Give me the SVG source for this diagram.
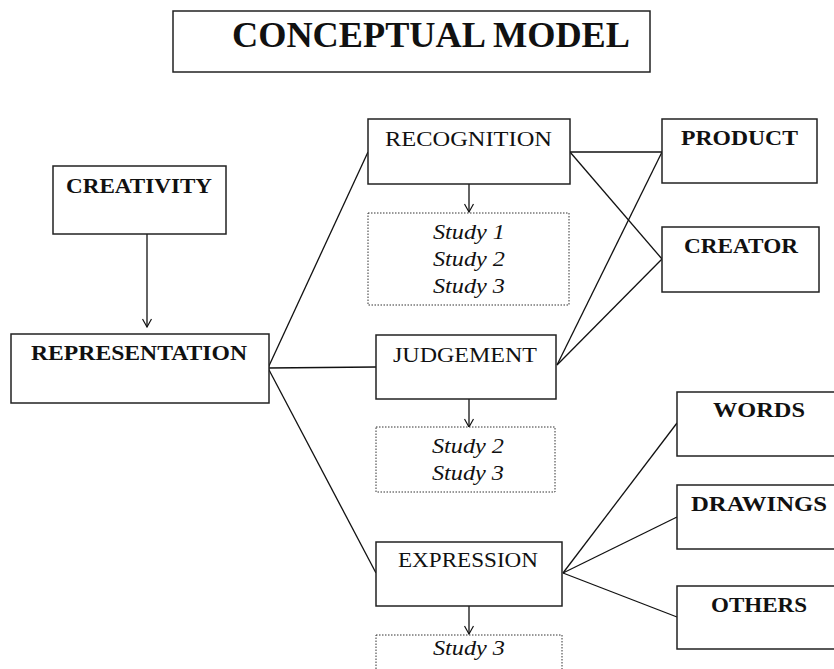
<svg xmlns="http://www.w3.org/2000/svg" width="834" height="669" viewBox="0 0 834 669">
  <defs>
    <marker id="arr" viewBox="0 0 10 10" refX="9" refY="5" markerWidth="10" markerHeight="10" markerUnits="userSpaceOnUse" orient="auto">
      <path d="M1,0.5 L9,5 L1,9.5" fill="none" stroke="#111" stroke-width="1.2"/>
    </marker>
  </defs>
  <style>
    .box { fill: #fff; stroke: #222; stroke-width: 1.5; }
    .dot { fill: #fff; stroke: #333; stroke-width: 1; stroke-dasharray: 1.5 1.5; }
    .t { font-family: "Liberation Serif", "DejaVu Serif", serif; font-size: 22px; fill: #111; }
    .b { font-weight: bold; }
    .i { font-style: italic; text-anchor: middle; }
    .ln { stroke: #111; stroke-width: 1.3; fill: none; }
  </style>
  <rect width="834" height="669" fill="#fff"/>

  <g id="title">
    <rect class="box" x="173" y="11" width="477" height="61"/>
    <text class="t b" x="232" y="47" style="font-size:36px" textLength="398" lengthAdjust="spacingAndGlyphs">CONCEPTUAL MODEL</text>
  </g>

  <g id="connectors">
    <line class="ln" x1="147" y1="234" x2="147" y2="327" marker-end="url(#arr)"/>
    <line class="ln" x1="268" y1="368" x2="368" y2="152"/>
    <line class="ln" x1="268" y1="368" x2="376" y2="367"/>
    <line class="ln" x1="268" y1="368" x2="376" y2="573"/>
    <line class="ln" x1="570" y1="152" x2="662" y2="152"/>
    <line class="ln" x1="570" y1="152" x2="662" y2="259"/>
    <line class="ln" x1="557" y1="365" x2="662" y2="152"/>
    <line class="ln" x1="557" y1="365" x2="662" y2="259"/>
    <line class="ln" x1="563" y1="573" x2="677" y2="423"/>
    <line class="ln" x1="563" y1="573" x2="677" y2="517"/>
    <line class="ln" x1="563" y1="573" x2="677" y2="617"/>
    <line class="ln" x1="469" y1="184" x2="469" y2="212" marker-end="url(#arr)"/>
    <line class="ln" x1="469" y1="399" x2="469" y2="427" marker-end="url(#arr)"/>
    <line class="ln" x1="469" y1="606" x2="469" y2="634" marker-end="url(#arr)"/>
  </g>

  <g id="creativity">
    <rect class="box" x="53" y="166" width="173" height="68"/>
    <text class="t b" x="66" y="193" textLength="146" lengthAdjust="spacingAndGlyphs">CREATIVITY</text>
  </g>

  <g id="representation">
    <rect class="box" x="11" y="334" width="258" height="69"/>
    <text class="t b" x="31" y="360" textLength="216" lengthAdjust="spacingAndGlyphs">REPRESENTATION</text>
  </g>

  <g id="recognition">
    <rect class="box" x="368" y="119" width="202" height="65"/>
    <text class="t" x="385" y="146" textLength="167" lengthAdjust="spacingAndGlyphs">RECOGNITION</text>
  </g>

  <g id="studies1">
    <rect class="dot" x="368" y="213" width="201" height="92"/>
    <text class="t i" x="469" y="239" textLength="72" lengthAdjust="spacingAndGlyphs">Study 1</text>
    <text class="t i" x="469" y="266" textLength="72" lengthAdjust="spacingAndGlyphs">Study 2</text>
    <text class="t i" x="469" y="293" textLength="72" lengthAdjust="spacingAndGlyphs">Study 3</text>
  </g>

  <g id="product">
    <rect class="box" x="662" y="119" width="155" height="64"/>
    <text class="t b" x="681" y="145" textLength="117" lengthAdjust="spacingAndGlyphs">PRODUCT</text>
  </g>

  <g id="creator">
    <rect class="box" x="662" y="227" width="157" height="65"/>
    <text class="t b" x="684" y="253" textLength="114" lengthAdjust="spacingAndGlyphs">CREATOR</text>
  </g>

  <g id="judgement">
    <rect class="box" x="376" y="335" width="180" height="64"/>
    <text class="t" x="393" y="362" textLength="144" lengthAdjust="spacingAndGlyphs">JUDGEMENT</text>
  </g>

  <g id="studies2">
    <rect class="dot" x="376" y="427" width="179" height="65"/>
    <text class="t i" x="468" y="453" textLength="72" lengthAdjust="spacingAndGlyphs">Study 2</text>
    <text class="t i" x="468" y="480" textLength="72" lengthAdjust="spacingAndGlyphs">Study 3</text>
  </g>

  <g id="expression">
    <rect class="box" x="376" y="542" width="186" height="64"/>
    <text class="t" x="398" y="567" textLength="140" lengthAdjust="spacingAndGlyphs">EXPRESSION</text>
  </g>

  <g id="studies3">
    <rect class="dot" x="376" y="635" width="186" height="50"/>
    <text class="t i" x="469" y="655" textLength="72" lengthAdjust="spacingAndGlyphs">Study 3</text>
  </g>

  <g id="words">
    <rect class="box" x="677" y="392" width="170" height="64"/>
    <text class="t b" x="713" y="417" textLength="92" lengthAdjust="spacingAndGlyphs">WORDS</text>
  </g>

  <g id="drawings">
    <rect class="box" x="677" y="485" width="170" height="64"/>
    <text class="t b" x="691" y="511" textLength="136" lengthAdjust="spacingAndGlyphs">DRAWINGS</text>
  </g>

  <g id="others">
    <rect class="box" x="677" y="586" width="170" height="63"/>
    <text class="t b" x="711" y="612" textLength="96" lengthAdjust="spacingAndGlyphs">OTHERS</text>
  </g>
</svg>
